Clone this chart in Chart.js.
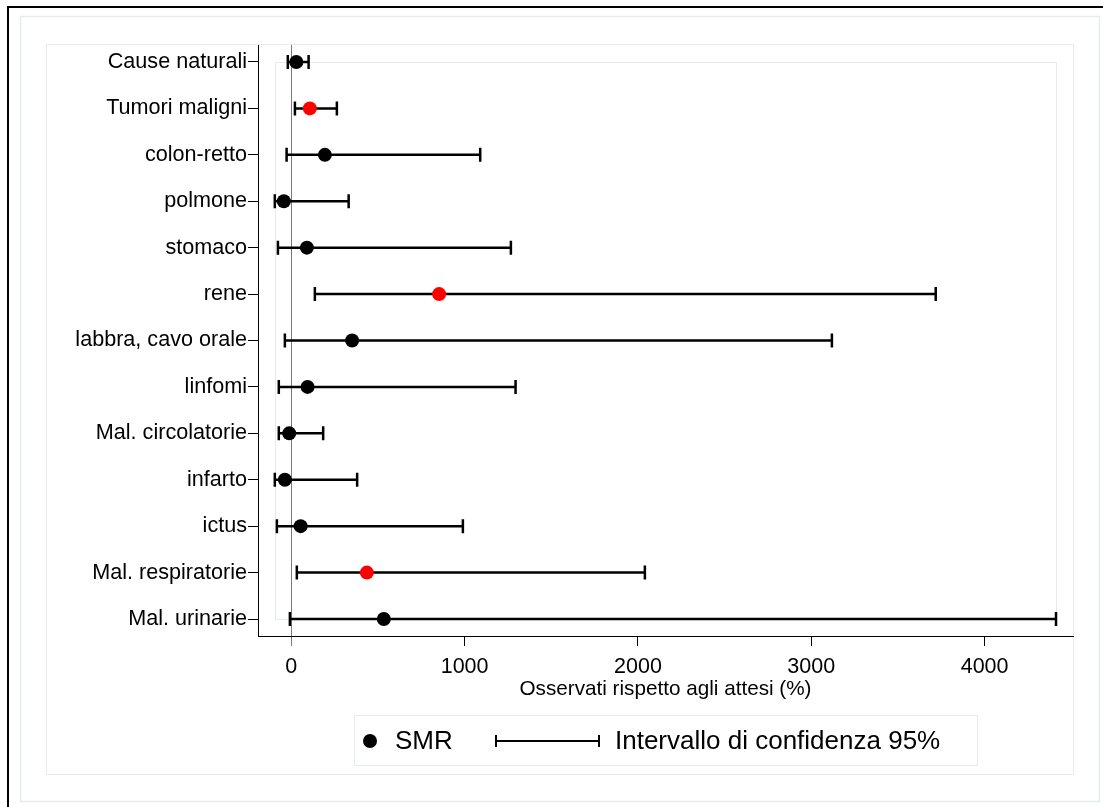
<!DOCTYPE html>
<html>
<head>
<meta charset="utf-8">
<script src="https://cdn.jsdelivr.net/npm/chart.js@4.4.1/dist/chart.umd.min.js"></script>
<style>
  html, body { margin: 0; padding: 0; background: #fff; }
  #wrap { width: 1103px; height: 807px; }
</style>
</head>
<body>
<div id="wrap"><canvas id="smrChart" width="1103" height="807"></canvas></div>
<script>
const categories = ['Cause naturali', 'Tumori maligni', 'colon-retto', 'polmone', 'stomaco', 'rene',
  'labbra, cavo orale', 'linfomi', 'Mal. circolatorie', 'infarto', 'ictus', 'Mal. respiratorie', 'Mal. urinarie'];
const smr    = [29, 107, 194, -43, 90, 853, 351, 94, -12, -37, 54, 436, 534];
const ciLow  = [-20, 21, -27, -95, -77, 136, -37, -72, -72, -95, -83, 32, -8];
const ciHigh = [100, 263, 1090, 331, 1267, 3718, 3119, 1294, 184, 380, 990, 2040, 4412];
const xTicks = [0, 1000, 2000, 3000, 4000];
const xTitle = 'Osservati rispetto agli attesi (%)';
const legendLabels = ['SMR', 'Intervallo di confidenza 95%'];

const FONT = "'Liberation Sans', Arial, Helvetica, sans-serif";
const frameColor = '#e5ecef';

Chart.defaults.font.family = FONT;
Chart.defaults.color = '#000';

// significant (lower bound above 0) in red
const pointColors = ciLow.map(v => v > 0 ? '#ff0000' : '#000000');

// background frames like the original export
const framePlugin = {
  id: 'frames',
  beforeDraw(chart) {
    const ctx = chart.ctx;
    ctx.save();
    ctx.fillStyle = '#fff';
    ctx.fillRect(0, 0, chart.width, chart.height);
    ctx.strokeStyle = '#000';
    ctx.lineWidth = 2;
    ctx.beginPath();
    ctx.moveTo(8, chart.height);
    ctx.lineTo(8, 7);
    ctx.lineTo(chart.width, 7);
    ctx.stroke();
    ctx.strokeStyle = frameColor;
    ctx.lineWidth = 1.5;
    ctx.strokeRect(20.5, 16.5, 1079, 785);
    ctx.lineWidth = 1;
    ctx.strokeRect(46.5, 44.5, 1027, 730);
    ctx.restore();
  }
};

// CI bars + data box drawn through the chart scales
const ciPlugin = {
  id: 'ciBars',
  beforeDatasetsDraw(chart) {
    const { ctx, scales: { x, y } } = chart;
    ctx.save();
    // light box around the data extent
    const bx0 = x.getPixelForValue(Math.min(...ciLow));
    const bx1 = x.getPixelForValue(Math.max(...ciHigh));
    const by0 = y.getPixelForValue(0);
    const by1 = y.getPixelForValue(categories.length - 1);
    ctx.strokeStyle = frameColor;
    ctx.lineWidth = 1;
    ctx.strokeRect(Math.round(bx0) + 0.5, Math.round(by0) + 0.5, Math.round(bx1 - bx0), Math.round(by1 - by0));

    ctx.strokeStyle = '#000';
    ctx.lineWidth = 2.5;
    categories.forEach((c, i) => {
      const py = y.getPixelForValue(i);
      const x0 = x.getPixelForValue(ciLow[i]);
      const x1 = x.getPixelForValue(ciHigh[i]);
      ctx.beginPath();
      ctx.moveTo(x0, py);
      ctx.lineTo(x1, py);
      ctx.moveTo(x0, py - 7);
      ctx.lineTo(x0, py + 7);
      ctx.moveTo(x1, py - 7);
      ctx.lineTo(x1, py + 7);
      ctx.stroke();
    });
    ctx.restore();
  }
};

// boxed legend under the axis title
const legendPlugin = {
  id: 'boxLegend',
  afterDraw(chart) {
    const ctx = chart.ctx;
    ctx.save();
    ctx.strokeStyle = frameColor;
    ctx.lineWidth = 1;
    ctx.strokeRect(354.5, 715.5, 623, 50);
    const cy = 741;
    ctx.fillStyle = '#000';
    ctx.beginPath();
    ctx.arc(370, cy, 7, 0, Math.PI * 2);
    ctx.fill();
    ctx.strokeStyle = '#000';
    ctx.lineWidth = 2;
    ctx.beginPath();
    ctx.moveTo(496, cy); ctx.lineTo(599, cy);
    ctx.moveTo(496, cy - 6); ctx.lineTo(496, cy + 6);
    ctx.moveTo(599, cy - 6); ctx.lineTo(599, cy + 6);
    ctx.stroke();
    ctx.font = '26px ' + FONT;
    ctx.textBaseline = 'middle';
    ctx.fillText(legendLabels[0], 395, cy + 1);
    ctx.fillText(legendLabels[1], 615, cy + 1);
    ctx.restore();
  }
};

new Chart(document.getElementById('smrChart'), {
  type: 'scatter',
  data: {
    datasets: [{
      label: legendLabels[0],
      data: smr.map((v, i) => ({ x: v, y: i })),
      pointRadius: 7,
      pointHoverRadius: 7,
      pointBackgroundColor: pointColors,
      pointBorderWidth: 0
    }]
  },
  options: {
    responsive: false,
    animation: false,
    devicePixelRatio: 1,
    layout: { padding: { top: 45, right: 30, left: 0, bottom: 105 } },
    plugins: {
      legend: { display: false },
      tooltip: { enabled: false }
    },
    scales: {
      x: {
        type: 'linear',
        min: -192,
        max: 4510,
        afterBuildTicks: s => { s.ticks = xTicks.map(v => ({ value: v })); },
        afterFit: s => { s.height = 66; },
        ticks: { font: { size: 21.5 }, color: '#000', padding: 8, maxRotation: 0, callback: v => String(v) },
        grid: {
          drawOnChartArea: true,
          color: c => (c.tick && c.tick.value === 0) ? '#7a7a7a' : 'rgba(0,0,0,0)',
          tickColor: c => (c.tick && c.tick.value === 0) ? '#7a7a7a' : '#000',
          tickLength: 10,
          lineWidth: 1
        },
        border: { color: '#000', width: 1 },
        title: { display: true, text: xTitle, font: { size: 20.7 }, color: '#000', padding: 0 }
      },
      y: {
        type: 'linear',
        reverse: true,
        min: -0.366,
        max: 12.366,
        afterBuildTicks: s => { s.ticks = categories.map((c, i) => ({ value: i })); },
        afterFit: s => { s.width = 258; },
        ticks: {
          font: { size: 21.6 },
          color: '#000',
          padding: 1,
          autoSkip: false,
          callback: v => categories[v]
        },
        grid: { drawOnChartArea: false, tickLength: 10, tickColor: '#000' },
        border: { color: '#000', width: 1 }
      }
    }
  },
  plugins: [framePlugin, ciPlugin, legendPlugin]
});
</script>
</body>
</html>
